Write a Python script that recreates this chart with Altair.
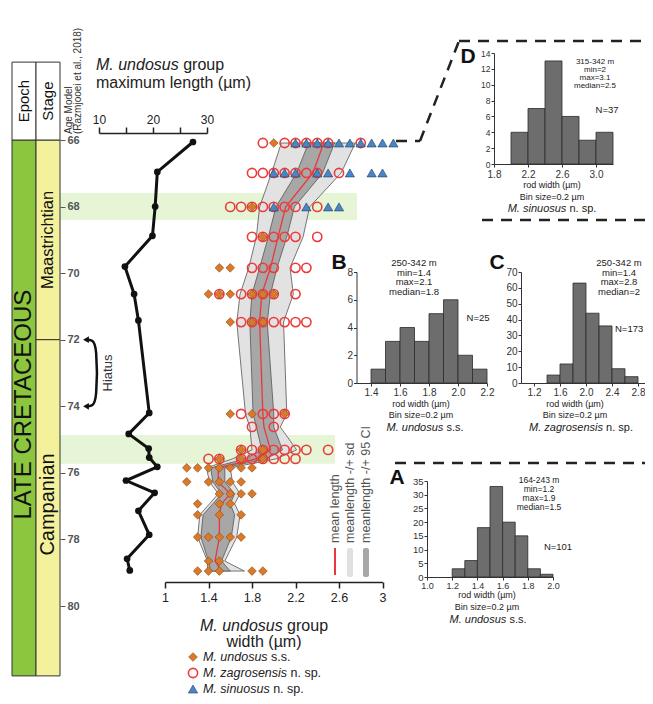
import altair as alt
import pandas as pd

W, H = 637, 688
M = 8
FONT = "Liberation Sans"


def px(v):
    return v - M


# ---------------- data ----------------
age_ticks = [66, 68, 70, 72, 74, 76, 78, 80]
epoch_name = "LATE CRETACEOUS"
epoch_span = [66, 82.1]
stage_names = ["Maastrichtian", "Campanian"]
stage_tops = [66, 72]
stage_bases = [72, 82.1]
header_top = 63.66
hiatus_ages = [72, 74]
highlight_tops = [67.59, 74.86]
highlight_bases = [68.40, 75.73]

ml_age = [66.06, 66.96, 68.0, 68.88, 69.80, 70.63, 71.42, 74.20, 74.83, 75.27,
          75.54, 75.82, 76.23, 76.60, 77.14, 77.86, 78.58, 78.93]
ml_len = [27.4, 20.8, 20.4, 19.9, 14.8, 16.5, 17.3, 19.3, 15.5, 19.2,
          19.3, 20.8, 15.0, 20.3, 17.3, 19.3, 15.2, 15.7]

row_age = [66.09, 66.99, 68.01, 68.91, 69.84, 70.63, 71.47, 74.23, 74.62, 75.31,
           75.58, 75.85, 76.27, 76.63, 76.93, 77.26, 77.93, 78.65, 78.95]
und_w = [[2.0], [], [1.8], [1.9], [1.5, 1.6], [1.4, 1.5, 1.6, 1.8, 1.9, 2.0],
         [1.6, 1.8, 1.9], [1.6, 1.8, 2.1], [], [1.7, 1.9], [1.5, 1.7, 1.9],
         [1.2, 1.3, 1.4, 1.5, 1.6, 1.7, 1.8], [1.2, 1.4, 1.5, 1.6, 1.7],
         [1.5, 1.6, 1.7, 1.8], [1.3, 1.5, 1.6], [1.3, 1.5, 1.7],
         [1.3, 1.4, 1.5, 1.6, 1.7], [1.4, 1.5], [1.3, 1.4, 1.5, 1.8, 1.9]]
zag_w = [[1.9, 2.1, 2.2, 2.3, 2.4, 2.5, 2.8], [1.8, 1.9, 2.0, 2.1, 2.2, 2.3, 2.4, 2.6],
         [1.6, 1.7, 1.8, 1.9, 2.0, 2.1, 2.2, 2.4], [1.8, 1.9, 2.0, 2.1, 2.2, 2.4],
         [1.8, 1.9, 2.0, 2.2, 2.3], [1.5, 1.7, 1.8, 1.9, 2.0, 2.2],
         [1.7, 1.8, 1.9, 2.0, 2.1, 2.2, 2.3], [1.7, 1.9, 2.0, 2.1], [1.8, 2.0],
         [1.7, 1.8, 1.9, 2.0, 2.1, 2.2, 2.3, 2.5], [1.4, 1.5, 1.7, 1.8, 1.9, 2.0, 2.1, 2.2],
         [], [], [], [], [], [], [], []]
sin_w = [[2.2, 2.3, 2.4, 2.5, 2.6, 2.7, 2.8, 2.9, 3.0, 3.1],
         [2.0, 2.1, 2.2, 2.4, 2.5, 2.7, 2.9, 3.0], [2.0, 2.3, 2.5, 2.6],
         [], [], [], [], [], [], [], [], [], [], [], [], [], [], [], []]
sd_lo = [2.07, 1.98, 1.87, 1.84, 1.77, 1.69, 1.66, 1.74, 1.78, 1.80, 1.62, 1.38, 1.41, 1.49, 1.41, 1.32, 1.30, 1.39, 1.39]
ci_lo = [2.32, 2.21, 2.02, 1.95, 1.87, 1.80, 1.78, 1.81, 1.84, 1.89, 1.74, 1.42, 1.44, 1.52, 1.44, 1.35, 1.33, 1.40, 1.42]
mean_w = [2.46, 2.36, 2.11, 2.04, 1.97, 1.89, 1.87, 1.90, 1.91, 1.97, 1.84, 1.49, 1.49, 1.60, 1.52, 1.50, 1.50, 1.46, 1.52]
ci_hi = [2.56, 2.45, 2.19, 2.12, 2.03, 1.97, 1.94, 2.00, 2.00, 2.08, 1.93, 1.55, 1.55, 1.64, 1.60, 1.64, 1.61, 1.52, 1.60]
sd_hi = [2.75, 2.62, 2.33, 2.27, 2.15, 2.18, 2.09, 2.12, 2.06, 2.21, 2.02, 1.60, 1.62, 1.69, 1.64, 1.69, 1.66, 1.55, 1.73]

d_lo = [2.0, 2.2, 2.4, 2.6, 2.8, 3.0]
d_hi = [2.2, 2.4, 2.6, 2.8, 3.0, 3.2]
d_n = [4, 7, 13, 6, 3, 4]
b_lo = [1.4, 1.5, 1.6, 1.7, 1.8, 1.9, 2.0, 2.1]
b_hi = [1.5, 1.6, 1.7, 1.8, 1.9, 2.0, 2.1, 2.2]
b_n = [1, 3, 4, 3, 5, 6, 2, 1]
c_lo = [1.4, 1.6, 1.8, 2.0, 2.2, 2.4, 2.6]
c_hi = [1.6, 1.8, 2.0, 2.2, 2.4, 2.6, 2.8]
c_n = [5, 12, 63, 44, 36, 9, 4]
a_lo = [1.2, 1.3, 1.4, 1.5, 1.6, 1.7, 1.8, 1.9]
a_hi = [1.3, 1.4, 1.5, 1.6, 1.7, 1.8, 1.9, 2.0]
a_n = [3, 6, 18, 33, 20, 15, 3, 1]

d_stats = ["315-342 m", "min=2", "max=3.1", "median=2.5"]
b_stats = ["250-342 m", "min=1.4", "max=2.1", "median=1.8"]
c_stats = ["250-342 m", "min=1.4", "max=2.8", "median=2"]
a_stats = ["164-243 m", "min=1.2", "max=1.9", "median=1.5"]

# ---------------- helpers ----------------
ARIAL = {' ': 278, '.': 278, ',': 278, '-': 333, '=': 584, '(': 333, ')': 333, '/': 278,
         '+': 584, 'µ': 576, 'M': 833, 'i': 222, 'l': 222, 'j': 222, 'r': 333, 't': 278,
         'f': 278, 'm': 833, 'w': 722, 's': 500, 'z': 500, 'c': 500, 'x': 500, 'k': 500,
         'v': 500, 'y': 500}


def tw(s, size):
    return sum(ARIAL.get(ch, 556) for ch in s) * size / 1000.0


def lin(domain, rng):
    return alt.Scale(domain=domain, range=rng, nice=False, zero=False)


def AGE():
    return lin([66, 80], [px(140), px(606)])


def axis(orient, offset, values, size=10, fmt=None, tick=3, color='#333', width=1,
         label_expr=None, weight='normal', pad=1, domain=True):
    kw = dict(orient=orient, offset=offset, values=values, title=None, grid=False,
              labelFont=FONT, labelFontSize=size, labelColor=color, tickColor=color,
              domainColor=color, tickSize=tick, tickWidth=width, domainWidth=width,
              labelPadding=pad, labelFlush=False, labelOverlap=False, zindex=2,
              labelFontWeight=weight, domain=domain)
    if fmt:
        kw['format'] = fmt
    if label_expr:
        kw['labelExpr'] = label_expr
    return alt.Axis(**kw)


def texts(rows, size, color='#222', style='normal', weight='normal', angle=0,
          align='center', baseline='middle'):
    df = pd.DataFrame(rows, columns=['x', 'y', 't'])
    df['x'] = df['x'] - M
    df['y'] = df['y'] - M
    return alt.Chart(df).mark_text(
        font=FONT, fontSize=size, color=color, fontStyle=style, fontWeight=weight,
        angle=angle, align=align, baseline=baseline
    ).encode(x=alt.X('x:Q', scale=None, axis=None),
             y=alt.Y('y:Q', scale=None, axis=None), text='t:N')


mixed_layers = []


def mixed(x, y, it, norm, size, anchor='center'):
    total = tw(it, size) + tw(' ', size) + tw(norm, size)
    left = x - total / 2 if anchor == 'center' else x
    mixed_layers.append(texts([(left, y, it)], size, style='italic', align='left'))
    mixed_layers.append(texts([(left + tw(it, size) + tw(' ', size), y, norm)], size, align='left'))


def box(df_cols, color, radius=0):
    df = pd.DataFrame(df_cols)
    return alt.Chart(df).mark_rect(color=color, cornerRadius=radius).encode(
        x=alt.X('x:Q', scale=None, axis=None), x2='x2:Q',
        y=alt.Y('y:Q', scale=None, axis=None), y2='y2:Q')


GREEN = '#8cc63f'
YELLOW = '#f3f19c'
layers = []

# ---------------- highlight bands ----------------
hl_df = pd.DataFrame({'top': highlight_tops, 'base': highlight_bases,
                      'left': [px(60), px(60)], 'right': [px(357), px(335)]})
layers.append(alt.Chart(hl_df).mark_rect(color='#e5f5d6').encode(
    x=alt.X('left:Q', scale=None, axis=None), x2='right:Q',
    y=alt.Y('top:Q', scale=AGE(), axis=None), y2='base:Q'))

# ---------------- strat column ----------------
SX = lambda: lin([0, 2], [px(12), px(60)])


def strat_rect(x0, x1, top, base, color, with_axis=False):
    df = pd.DataFrame({'x0': x0, 'x1': x1, 'top': top, 'base': base})
    yax = axis('right', px(60) - W, age_ticks, size=11, tick=5, color='#555',
               weight='bold', pad=2, domain=False) if with_axis else None
    return alt.Chart(df).mark_rect(color=color, stroke='#333', strokeWidth=1).encode(
        x=alt.X('x0:Q', scale=SX(), axis=None), x2='x1:Q',
        y=alt.Y('top:Q', scale=AGE(), axis=yax), y2='base:Q')


layers.append(strat_rect([0], [1], [epoch_span[0]], [epoch_span[1]], GREEN, with_axis=True))
layers.append(strat_rect([1, 1], [2, 2], stage_tops, stage_bases, YELLOW))
layers.append(strat_rect([0, 1], [1, 2], [header_top, header_top], [66, 66], 'white'))

strat_txt = pd.DataFrame({
    't': [epoch_name, stage_names[0], stage_names[1], 'Epoch', 'Stage'],
    'xc': [0.5, 1.5, 1.5, 0.5, 1.5],
    'yc': [sum(epoch_span) / 2 - 0.1, (stage_tops[0] + stage_bases[0]) / 2,
           (stage_tops[1] + stage_bases[1]) / 2 - 0.1, (header_top + 66) / 2, (header_top + 66) / 2],
    'fs': [24, 16.5, 20, 15, 15]})
layers.append(alt.Chart(strat_txt).mark_text(font=FONT, angle=270, color='#111').encode(
    x=alt.X('xc:Q', scale=SX(), axis=None), y=alt.Y('yc:Q', scale=AGE(), axis=None),
    text='t:N', size=alt.Size('fs:Q', scale=None)))

# ---------------- hiatus bracket ----------------
br_df = pd.DataFrame({'bx': [0, 0.55, 1, 1, 0.55, 0],
                      'by': [hiatus_ages[0], hiatus_ages[0], hiatus_ages[0] + 0.15,
                             hiatus_ages[1] - 0.15, hiatus_ages[1], hiatus_ages[1]],
                      'i': [0, 1, 2, 3, 4, 5]})
BX = lambda: lin([0, 1], [px(86), px(97)])
layers.append(alt.Chart(br_df).mark_line(interpolate='basis', color='#111', strokeWidth=2.5).encode(
    x=alt.X('bx:Q', scale=BX(), axis=None), y=alt.Y('by:Q', scale=AGE(), axis=None),
    order='i:Q'))
arr_df = pd.DataFrame({'bx': [0, 0], 'by': hiatus_ages})
layers.append(alt.Chart(arr_df).mark_point(shape='triangle-left', filled=True, fill='#111',
                                           size=45, opacity=1, strokeWidth=0).encode(
    x=alt.X('bx:Q', scale=BX(), axis=None), y=alt.Y('by:Q', scale=AGE(), axis=None)))

# ---------------- max length ----------------
ml_df = pd.DataFrame({'age': ml_age, 'len': ml_len})
layers.append(alt.Chart(ml_df).mark_line(
    color='#111', strokeWidth=3,
    point=alt.OverlayMarkDef(filled=True, size=45, color='#111', opacity=1)).encode(
    x=alt.X('len:Q', scale=lin([10, 30], [px(99), px(207)]),
            axis=axis('top', -px(133), [10, 15, 20, 25, 30], size=12, tick=6, color='#222',
                      width=1.5, pad=1,
                      label_expr="datum.value % 10 === 0 ? datum.label : ''")),
    y=alt.Y('age:Q', scale=AGE(), axis=None), order='age:Q'))

# ---------------- width panel ----------------
SCX = lambda: lin([1, 3], [px(165), px(382.5)])
sc_axis = axis('bottom', px(582) - H, [1, 1.4, 1.8, 2.2, 2.6, 3], size=12.5, fmt='~g',
               tick=6, color='#222', width=1.5, pad=3)
band_df = pd.DataFrame({'age': row_age, 'sd_lo': sd_lo, 'sd_hi': sd_hi,
                        'ci_lo': ci_lo, 'ci_hi': ci_hi, 'mean': mean_w})


def pts(lists):
    rows = [(a, v) for a, vals in zip(row_age, lists) for v in vals]
    return pd.DataFrame(rows, columns=['age', 'w'])


sd_l = alt.Chart(band_df).mark_area(orient='horizontal', color='#e2e2e2', stroke='#555',
                                    strokeWidth=0.8, opacity=1).encode(
    x=alt.X('sd_lo:Q', scale=SCX(), axis=sc_axis), x2='sd_hi:Q',
    y=alt.Y('age:Q', scale=AGE(), axis=None))
ci_l = alt.Chart(band_df).mark_area(orient='horizontal', color='#a7a7a7', stroke='#555',
                                    strokeWidth=0.8, opacity=1).encode(
    x=alt.X('ci_lo:Q', scale=SCX(), axis=sc_axis), x2='ci_hi:Q',
    y=alt.Y('age:Q', scale=AGE(), axis=None))
mean_l = alt.Chart(band_df).mark_line(color='#e8383d', strokeWidth=1.3).encode(
    x=alt.X('mean:Q', scale=SCX(), axis=sc_axis), y=alt.Y('age:Q', scale=AGE(), axis=None),
    order='age:Q')
CIR = dict(shape='circle', filled=False, stroke='#ec3b3b', strokeWidth=1.6, size=85, opacity=1)
DIA = dict(shape='diamond', filled=True, fill='#d97a2b', stroke='#8b4513', strokeWidth=0.6,
           size=75, opacity=1)
TRI = dict(shape='triangle-up', filled=True, fill='#4a86c5', stroke='#1d3a5f',
           strokeWidth=0.6, size=85, opacity=1)
cir_l = alt.Chart(pts(zag_w)).mark_point(**CIR).encode(
    x=alt.X('w:Q', scale=SCX(), axis=sc_axis), y=alt.Y('age:Q', scale=AGE(), axis=None))
dia_l = alt.Chart(pts(und_w)).mark_point(**DIA).encode(
    x=alt.X('w:Q', scale=SCX(), axis=sc_axis), y=alt.Y('age:Q', scale=AGE(), axis=None))
tri_l = alt.Chart(pts(sin_w)).mark_point(**TRI).encode(
    x=alt.X('w:Q', scale=SCX(), axis=sc_axis), y=alt.Y('age:Q', scale=AGE(), axis=None))
layers.append(alt.layer(sd_l, ci_l, mean_l, cir_l, dia_l, tri_l))

# ---------------- band legend ----------------
layers.append(box({'x': [px(334)], 'x2': [px(336)], 'y': [px(548)], 'y2': [px(575)]}, '#e8383d'))
layers.append(box({'x': [px(347)], 'x2': [px(353)], 'y': [px(548)], 'y2': [px(577)]}, '#e0e0e0', radius=2))
layers.append(box({'x': [px(363)], 'x2': [px(369)], 'y': [px(548)], 'y2': [px(577)]}, '#a7a7a7', radius=2))

# ---------------- species legend ----------------
LEG_Y = [657, 673, 689]
for shape_def, yy in zip([DIA, CIR, TRI], LEG_Y):
    d = dict(shape_def)
    if d['shape'] == 'circle':
        d['fill'] = 'white'
        d['filled'] = True
    layers.append(alt.Chart(pd.DataFrame({'x': [px(193)], 'y': [px(yy)]})).mark_point(**d).encode(
        x=alt.X('x:Q', scale=None, axis=None), y=alt.Y('y:Q', scale=None, axis=None)))


# ---------------- histograms ----------------
def hist(lo, hi, n, xdom, xr, ydom, yr, xvals, yvals, xsize=10, ysize=10, xpad=1):
    df = pd.DataFrame({'lo': lo, 'hi': hi, 'n': n, 'z': [0] * len(n)})
    return alt.Chart(df).mark_rect(fill='#6d6d6d', stroke='#2b2b2b', strokeWidth=0.8).encode(
        x=alt.X('lo:Q', scale=lin(xdom, [px(xr[0]), px(xr[1])]),
                axis=axis('bottom', px(yr[0]) - H, xvals, size=xsize, fmt='.1f', tick=3,
                          color='#333', pad=xpad)),
        x2='hi:Q',
        y=alt.Y('n:Q', scale=lin(ydom, [px(yr[0]), px(yr[1])]),
                axis=axis('left', -px(xr[0]), yvals, size=ysize, fmt='d', tick=3, color='#333')),
        y2='z:Q')


layers.append(hist(d_lo, d_hi, d_n, [1.8, 3.2], [494, 613], [0, 14], [164, 53],
                   [1.8, 2.2, 2.6, 3.0], list(range(0, 15, 2)), xsize=10, ysize=8.5, xpad=2))
layers.append(hist(b_lo, b_hi, b_n, [1.3, 2.2], [356.5, 487], [0, 8], [383, 272],
                   [1.4, 1.6, 1.8, 2.0, 2.2], [0, 2, 4, 6, 8]))
layers.append(hist(c_lo, c_hi, c_n, [1.0, 2.9], [521, 644.5], [0, 70], [383, 272],
                   [1.2, 1.6, 2.0, 2.4, 2.8], list(range(0, 71, 10))))
layers.append(hist(a_lo, a_hi, a_n, [1.0, 2.0], [427, 553], [0, 35], [577, 481],
                   [1.0, 1.2, 1.4, 1.6, 1.8, 2.0], list(range(0, 36, 5)), xsize=9, ysize=9.5))

# ---------------- dashed connectors ----------------
dash_df = pd.DataFrame([(396, 141, 420, 141), (420, 141, 459, 41), (459, 41, 653, 41),
                        (482, 220, 653, 220), (395, 463, 653, 463)],
                       columns=['x', 'y', 'x2', 'y2']) - M
layers.append(alt.Chart(dash_df).mark_rule(strokeDash=[11, 8], strokeWidth=2.5, color='#222').encode(
    x=alt.X('x:Q', scale=None, axis=None), x2='x2:Q',
    y=alt.Y('y:Q', scale=None, axis=None), y2='y2:Q'))

# ---------------- texts ----------------
layers.append(texts([(69, 134, 'Age Model'), (78, 134, '(Razmjooei et al., 2018)')], 10,
                    color='#333', angle=270, align='left'))
layers.append(texts([(108, 373, 'Hiatus')], 13, color='#333', angle=270))
layers.append(texts([(96, 83, 'maximum length (µm)')], 16, align='left'))
mixed(96, 65, 'M. undosus', 'group', 16, anchor='left')
mixed(264, 626, 'M. undosus', 'group', 16)
layers.append(texts([(264, 642, 'width (µm)')], 16))
mixed(203, LEG_Y[0], 'M. undosus', 's.s.', 12.5, anchor='left')
mixed(203, LEG_Y[1], 'M. zagrosensis', 'n. sp.', 12.5, anchor='left')
mixed(203, LEG_Y[2], 'M. sinuosus', 'n. sp.', 12.5, anchor='left')
layers.append(texts([(335, 543, 'mean length'), (350, 543, 'meanlength -/+ sd'),
                     (366, 543, 'meanlength -/+ 95 CI')], 12.5, color='#555', angle=270,
                    align='left'))

# histogram letters
layers.append(texts([(468, 57, 'D'), (339, 263, 'B'), (497, 263, 'C'), (397, 478, 'A')], 21,
                    color='#111', weight='bold'))
# stats
layers.append(texts([(595, 62 + 8 * i, s) for i, s in enumerate(d_stats)], 8))
layers.append(texts([(414, 263 + 9.5 * i, s) for i, s in enumerate(b_stats)], 9.5))
layers.append(texts([(619, 263 + 9.5 * i, s) for i, s in enumerate(c_stats)], 9.5))
layers.append(texts([(539, 480 + 9 * i, s) for i, s in enumerate(a_stats)], 8.5))
layers.append(texts([(607, 110, 'N=37'), (478, 318, 'N=25'), (558, 547, 'N=101')], 9.5))
layers.append(texts([(615, 329, 'N=173')], 9.5, align='left'))
layers.append(texts([(552, 185, 'rod width (µm)'), (552, 197, 'Bin size=0.2 µm'),
                     (421, 404, 'rod width (µm)'), (421, 415, 'Bin size=0.2 µm'),
                     (575, 404, 'rod width (µm)'), (575, 415, 'Bin size=0.2 µm'),
                     (487, 595, 'rod width (µm)'), (487, 607, 'Bin size=0.2 µm')], 9))
mixed(552, 209, 'M. sinuosus', 'n. sp.', 11)
mixed(425, 428, 'M. undosus', 's.s.', 11)
mixed(581, 428, 'M. zagrosensis', 'n. sp.', 11)
mixed(488, 620, 'M. undosus', 's.s.', 11)

layers.extend(mixed_layers)

chart = alt.layer(*layers).resolve_scale(
    x='independent', y='independent', color='independent'
).properties(
    width=W, height=H, autosize=alt.AutoSizeParams(type='none'), padding=0
).configure_view(stroke=None)

chart.save("out.html", embed_options={"renderer": "svg", "actions": False})
